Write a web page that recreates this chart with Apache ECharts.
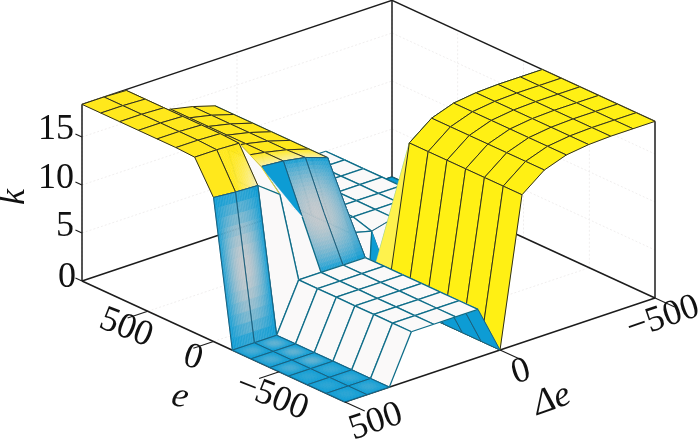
<!DOCTYPE html>
<html>
<head>
<meta charset="utf-8">
<style>
    html, body { margin: 0; padding: 0; background: #ffffff; }
    #main { width: 700px; height: 440px; }
</style>
<script src="https://cdn.jsdelivr.net/npm/echarts@6/dist/echarts.min.js"></script>
</head>
<body>
<div id="main"></div>
<script>
// e runs from the left corner to the front corner, delta e from the front corner to the right corner
const eValues = [1000, 857, 714, 571, 429, 286, 143, 0, -143, -286, -429, -571, -714, -857, -1000];
const deltaEValues = [500, 429, 357, 286, 214, 143, 71, 0, -71, -143, -214, -286, -357, -429, -500];

// k, one row per e value, one column per delta e value
const kRow0 = [18.4, 18.4, 18.3, 15.2, 14.8, 14.3, 13.6, 5, 5, 5, 5, 5, 0, 0, 0];
const kRow6 = [18.3, 18.3, 18.2, 15.0, 14.8, 14.4, 13.6, 5, 4.4, 5, 5, 5, 0, 0, 0];
const kRow7 = [15, 14.8, 14.7, 13, 9.9, 9.5, 9.2, 0, 0, 5, 5, 5, 5, 5, 5];
const kRow8 = [0, 0, 0, 5, 5, 5, 5, 0, 15.4, 17.2, 18, 18.3, 18.4, 18.4, 18.4];
const kValues = [kRow0, kRow0, kRow0, kRow0, kRow0, kRow0, kRow6, kRow7, kRow8, kRow8, kRow8, kRow8, kRow8, kRow8, kRow8];

const kMax = 18.4;
const kTicks = [0, 5, 10, 15];
const eTicks = [500, 0, -500];
const deltaETicks = [500, 0, -500];

const BLUE = [13, 156, 212];
const GREY = [194, 200, 204];
const YELLOW = [255, 232, 28];
const WALL_YELLOW = [255, 240, 20];
const PALE = [248, 240, 190];
const WHITE = [250, 249, 249];
const LINE_DARK = '#2e2e20';
const LINE_TEAL = '#0c6c88';
const LINE_BLUE = '#1c5f7c';
const AXIS = '#1c1c1c';
const FAINT = '#e9e6e6';
const SERIF = 'Liberation Serif';

// oblique projection of (e, delta e, k) onto the page plane
function project(e, de, k) {
    const u = (eValues[0] - e) / (eValues[0] - eValues[14]);
    const v = (deltaEValues[0] - de) / (deltaEValues[0] - deltaEValues[14]);
    return [82 + u * 263 + v * 310, 281 + u * 121 - v * 104 - k * 9.6];
}

function node(api, i, j) {
    return api.coord(project(eValues[i], deltaEValues[j], kValues[i][j]));
}

function mix(a, b, f) {
    const r = a.map((c, n) => Math.round(c + (b[n] - c) * f));
    return 'rgb(' + r.join(',') + ')';
}

function bump(a, b) {
    return Math.sin(Math.PI * a) * Math.sin(Math.PI * b);
}

// colour at position (s along e, t along delta e) inside cell i, j
function shade(i, j, s, t) {
    if (i >= 8) {
        if (j <= 1) {
            return mix(BLUE, GREY, 0.45 * bump(s, t) * (i <= 10 ? 1 : 0.5) * (j === 0 ? 0.7 : 1));
        }
        if (j <= 5) return mix(WHITE, WHITE, 0);
        if (j === 6) return mix(BLUE, BLUE, 0);
        return mix(WALL_YELLOW, WALL_YELLOW, 0);
    }
    if (i === 7) {
        if (j <= 1) return mix(BLUE, GREY, Math.pow(bump((j + t) / 2, s), 0.8));
        if (j <= 3) return mix(WHITE, WHITE, 0);
        if (j <= 5) return mix(BLUE, GREY, Math.pow(bump((j + t - 3) / 3.4, (1 + s) / 2), 0.7));
        return mix(BLUE, BLUE, 0);
    }
    if (i === 6) {
        if (j === 0) return mix(YELLOW, YELLOW, 0);
        if (j === 1) return mix(YELLOW, PALE, Math.max(0, s * t * 1.1 - 0.1));
        if (j === 2) return mix(WHITE, WHITE, 0);
        if (j <= 5) return mix(BLUE, GREY, Math.pow(bump((j + t - 3) / 3.4, s / 2), 0.7));
        if (j === 6) return mix(BLUE, BLUE, 0);
        return mix(WHITE, WHITE, 0);
    }
    if (j <= 5) {
        return i === 5 && j >= 2 ? mix(YELLOW, PALE, s * 0.85) : mix(YELLOW, YELLOW, 0);
    }
    if (j >= 11) return mix(BLUE, BLUE, 0);
    return mix(WHITE, WHITE, 0);
}

// only these cells change colour inside
function isShaded(i, j) {
    if (i >= 8) return j <= 1;
    if (i === 7) return j <= 1 || j === 4 || j === 5;
    if (i === 6) return j === 1 || j === 4 || j === 5;
    return i === 5 && j >= 2 && j <= 5;
}

function lineColor(i, j) {
    if (i === 6 && j === 2) return '#e4d430';
    if (i === 7 && j === 2) return LINE_TEAL;
    if (i >= 8) return j >= 7 ? LINE_DARK : (j <= 1 || j === 6 ? LINE_BLUE : LINE_TEAL);
    if (i === 7) return j <= 1 || j >= 4 ? LINE_BLUE : LINE_TEAL;
    if (i === 6) return j <= 1 ? LINE_DARK : LINE_BLUE;
    return j <= 5 ? LINE_DARK : LINE_TEAL;
}

function polygon(points, fill) {
    return {
        type: 'polygon',
        shape: { points: points },
        style: { fill: fill, stroke: fill, lineWidth: 0.5 }
    };
}

function edge(from, to, color) {
    return {
        type: 'polyline',
        shape: { points: [from, to] },
        style: { fill: 'none', stroke: color, lineWidth: color === LINE_TEAL ? 1.3 : 1 }
    };
}

function renderCell(params, api) {
    const i = api.value(0);
    const j = api.value(1);
    const a = node(api, i, j);
    const b = node(api, i, j + 1);
    const c = node(api, i + 1, j + 1);
    const d = node(api, i + 1, j);
    const children = [];

    // three cells fold along a diagonal in the picture
    if (i === 6 && j === 3) {
        children.push(polygon([a, c, d], mix(WHITE, WHITE, 0)));
        children.push(polygon([a, b, c], mix(BLUE, BLUE, 0)));
        children.push(edge(a, b, LINE_BLUE), edge(b, c, LINE_BLUE), edge(a, d, LINE_TEAL));
        return { type: 'group', children: children };
    }
    if (i === 7 && j === 7) {
        children.push(polygon([a, b, c], mix(BLUE, BLUE, 0)));
        children.push(polygon([a, c, d], mix(WALL_YELLOW, WHITE, 0.25)));
        return { type: 'group', children: children };
    }
    if (i === 6 && j === 7) {
        children.push(polygon([a, b, d], mix(WHITE, WHITE, 0)));
        children.push(polygon([b, c, d], mix(BLUE, BLUE, 0)));
        children.push(edge(a, b, LINE_TEAL), edge(b, d, LINE_TEAL));
        return { type: 'group', children: children };
    }

    // cut shaded cells into small pieces so that the colour can vary inside them
    const n = isShaded(i, j) ? 14 : 1;
    const at = (s, t) => [
        (1 - s) * ((1 - t) * a[0] + t * b[0]) + s * ((1 - t) * d[0] + t * c[0]),
        (1 - s) * ((1 - t) * a[1] + t * b[1]) + s * ((1 - t) * d[1] + t * c[1])
    ];
    for (let p = 0; p < n; p++) {
        for (let q = 0; q < n; q++) {
            const s0 = p / n, s1 = (p + 1) / n, t0 = q / n, t1 = (q + 1) / n;
            children.push(polygon(
                [at(s0, t0), at(s0, t1), at(s1, t1), at(s1, t0)],
                shade(i, j, (s0 + s1) / 2, (t0 + t1) / 2)
            ));
        }
    }

    // the steep walls have no cross line half way down
    const color = lineColor(i, j);
    const wall = j >= 3 && j <= 6;
    if (!(i === 7 && wall)) children.push(edge(a, b, color));
    if (!(i === 6 && wall)) children.push(edge(d, c, color));
    children.push(edge(a, d, color), edge(b, c, color));
    return { type: 'group', children: children };
}

// far cells first: small row index, large column index
const cells = [];
for (let i = 0; i < 14; i++) {
    for (let j = 13; j >= 0; j--) {
        cells.push([i, j]);
    }
}

const eMax = eValues[0], eMin = eValues[14], dMax = deltaEValues[0], dMin = deltaEValues[14];

// box edges and faint wall grid: [e0, de0, k0, e1, de1, k1, isFaint]
const boxLines = [];
kTicks.slice(1).forEach(k => {
    boxLines.push([eMax, dMax, k, eMax, dMin, k, 1]);
    boxLines.push([eMax, dMin, k, eMin, dMin, k, 1]);
});
eTicks.forEach(e => {
    boxLines.push([e, dMin, 0, e, dMin, kMax, 1]);
    boxLines.push([e, dMax, 0, e, dMin, 0, 1]);
});
deltaETicks.forEach(de => {
    boxLines.push([eMax, de, 0, eMax, de, kMax, 1]);
    boxLines.push([eMax, de, 0, eMin, de, 0, 1]);
});
boxLines.push(
    [eMax, dMax, 0, eMin, dMax, 0, 0],
    [eMin, dMax, 0, eMin, dMin, 0, 0],
    [eMax, dMax, 0, eMax, dMin, 0, 0],
    [eMax, dMin, 0, eMin, dMin, 0, 0],
    [eMax, dMax, 0, eMax, dMax, kMax, 0],
    [eMin, dMin, 0, eMin, dMin, kMax, 0],
    [eMax, dMin, 0, eMax, dMin, kMax, 0],
    [eMax, dMax, kMax, eMax, dMin, kMax, 0],
    [eMax, dMin, kMax, eMin, dMin, kMax, 0]
);

function renderBoxLine(params, api) {
    const from = api.coord(project(api.value(0), api.value(1), api.value(2)));
    const to = api.coord(project(api.value(3), api.value(4), api.value(5)));
    const faint = api.value(6) === 1;
    return {
        type: 'line',
        shape: { x1: from[0], y1: from[1], x2: to[0], y2: to[1] },
        style: faint
            ? { stroke: FAINT, lineWidth: 0.7, lineDash: [2, 2] }
            : { stroke: AXIS, lineWidth: 1.5 }
    };
}

// ticks on the front edges: [e0, de0, k0, e1, de1, k1]
const tickLines = [];
eTicks.forEach(e => tickLines.push([e, dMax, 0, e, dMax + 65, 0]));
deltaETicks.forEach(de => tickLines.push([eMin, de, 0, eMin - 150, de, 0]));
kTicks.forEach(k => tickLines.push([eMax, dMax, k, eMax + 50, dMax, k]));

function renderTick(params, api) {
    const from = api.coord(project(api.value(0), api.value(1), api.value(2)));
    const to = api.coord(project(api.value(3), api.value(4), api.value(5)));
    return {
        type: 'line',
        shape: { x1: from[0], y1: from[1], x2: to[0], y2: to[1] },
        style: { stroke: AXIS, lineWidth: 1.2 }
    };
}

// text sits next to the axes: [text, x, y, rotation, italic, align]
const labels = [
    ['15', 74, 130, 0, 0, 'right'],
    ['10', 74, 179, 0, 0, 'right'],
    ['5', 74, 227, 0, 0, 'right'],
    ['0', 76, 278, 0, 0, 'right'],
    ['500', 126, 328, -0.38, 0, 'center'],
    ['0', 193, 358, -0.3, 0, 'center'],
    ['\u2212500', 272, 397, -0.38, 0, 'center'],
    ['500', 376, 422, 0.33, 0, 'center'],
    ['0', 521, 372, 0.3, 0, 'center'],
    ['\u2212500', 663, 318, 0.33, 0, 'center'],
    ['k', 15, 197, Math.PI / 2, 1, 'center'],
    ['e', 180, 397, -0.25, 1, 'center'],
    ['\u0394e', 552, 400, 0.33, 1, 'center']
];

function renderLabel(params, api) {
    const item = labels[params.dataIndex];
    const pos = api.coord([item[1], item[2]]);
    return {
        type: 'text',
        x: pos[0],
        y: pos[1],
        rotation: item[3],
        style: {
            text: item[0],
            fontFamily: SERIF,
            fontSize: 36,
            fontStyle: item[4] ? 'italic' : 'normal',
            fill: '#111111',
            align: item[5],
            verticalAlign: 'middle'
        }
    };
}

const chart = echarts.init(document.getElementById('main'));
const option = {
    backgroundColor: '#ffffff',
    animation: false,
    grid: { left: 0, right: 0, top: 0, bottom: 0 },
    xAxis: { type: 'value', min: 0, max: 700, show: false },
    yAxis: { type: 'value', min: 0, max: 440, inverse: true, show: false },
    series: [
        { type: 'custom', silent: true, clip: false, z: 1, data: boxLines, renderItem: renderBoxLine },
        { type: 'custom', silent: true, clip: false, z: 2, data: cells, renderItem: renderCell },
        { type: 'custom', silent: true, clip: false, z: 3, data: tickLines, renderItem: renderTick },
        {
            type: 'custom', silent: true, clip: false, z: 4,
            data: labels.map(item => item[0]),
            renderItem: renderLabel
        }
    ]
};
chart.setOption(option);
</script>
</body>
</html>
